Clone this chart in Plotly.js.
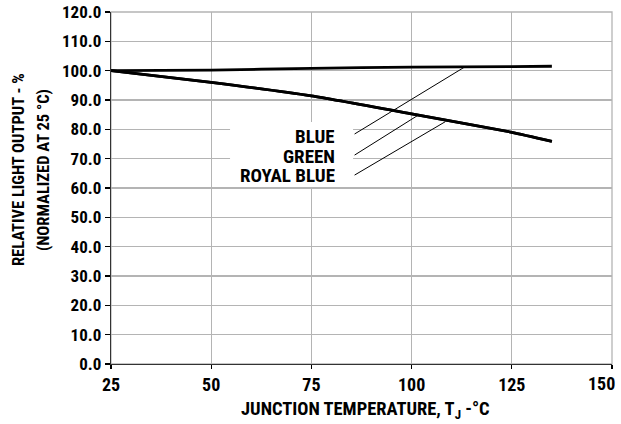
<!DOCTYPE html>
<html>
<head>
<meta charset="utf-8">
<script src="https://cdn.plot.ly/plotly-3.0.1.min.js"></script>
<style>
html,body{margin:0;padding:0;background:#fff;}
#chart{width:621px;height:424px;}
</style>
</head>
<body>
<div id="chart"></div>
<script>
// Junction temperature (°C)
var temperature = [25, 50, 75, 100, 125, 135];
// Relative light output (%), normalized at 25 °C
var blueOutput = [100, 100.2, 100.8, 101.2, 101.4, 101.5];
var greenOutput = [100, 96.0, 91.4, 85.3, 79.0, 75.9];
var royalBlueOutput = [100, 96.0, 91.4, 85.3, 79.0, 75.9];

// Callout labels and the curve points their leaders touch
var labelNames = ['BLUE', 'GREEN', 'ROYAL BLUE'];
var labelTextX = [81.4, 81.4, 81.4];
var labelTextY = [77.7, 70.9, 64.3];
var leaderStartX = [85.4, 85.4, 85.4];
var leaderStartY = [78.1, 70.9, 64.1];
var leaderEndX = [113.3, 101.6, 108.4];
var leaderEndY = [101.3, 84.8, 82.6];

var xTicks = [25, 50, 75, 100, 125, 150];
var yTicks = [0, 10, 20, 30, 40, 50, 60, 70, 80, 90, 100, 110, 120];

var FONT = "'Roboto Condensed', 'Open Sans Condensed', 'Liberation Sans Narrow', 'Arial Narrow', 'DejaVu Sans Condensed', sans-serif";

var lineStyle = {color: '#000', width: 2.8, shape: 'spline', smoothing: 0.5};
var traces = [
  {x: temperature, y: royalBlueOutput, mode: 'lines', name: 'ROYAL BLUE', line: lineStyle},
  {x: temperature, y: greenOutput, mode: 'lines', name: 'GREEN', line: lineStyle},
  {x: temperature, y: blueOutput, mode: 'lines', name: 'BLUE', line: lineStyle}
];

var annotations = [];
for (var i = 0; i < labelNames.length; i++) {
  annotations.push({
    x: labelTextX[i], y: labelTextY[i], xref: 'x', yref: 'y',
    text: '<b>' + labelNames[i] + '</b>', showarrow: false,
    xanchor: 'right', yanchor: 'middle', height: 17, valign: 'middle',
    font: {family: FONT, size: 19, color: '#000'}
  });
  annotations.push({
    x: leaderEndX[i], y: leaderEndY[i], xref: 'x', yref: 'y',
    ax: leaderStartX[i], ay: leaderStartY[i], axref: 'x', ayref: 'y',
    text: '', showarrow: true, arrowhead: 0, arrowwidth: 1, arrowcolor: '#000',
    standoff: 0, startstandoff: 0
  });
}
// last x tick label, nudged inward so it stays inside the picture
annotations.push({
  x: xTicks[xTicks.length - 1], y: -0.054, xref: 'x', yref: 'paper',
  text: '<b>' + xTicks[xTicks.length - 1] + '</b>', showarrow: false,
  xanchor: 'right', yanchor: 'middle', xshift: 5,
  font: {family: FONT, size: 18, color: '#000'}
});
annotations.push({
  x: -0.1856, y: 0.551, xref: 'paper', yref: 'paper', textangle: -90,
  text: '<b>RELATIVE LIGHT OUTPUT - %</b>', showarrow: false,
  xanchor: 'center', yanchor: 'middle',
  font: {family: FONT, size: 16.5, color: '#000'}
});
annotations.push({
  x: -0.1357, y: 0.551, xref: 'paper', yref: 'paper', textangle: -90,
  text: '<b>(NORMALIZED AT 25 °C)</b>', showarrow: false,
  xanchor: 'center', yanchor: 'middle',
  font: {family: FONT, size: 16.5, color: '#000'}
});
annotations.push({
  x: 0.507, y: -0.131, xref: 'paper', yref: 'paper',
  text: '<b>JUNCTION TEMPERATURE, T<sub>J</sub> -°C</b>', showarrow: false,
  xanchor: 'center', yanchor: 'middle',
  font: {family: FONT, size: 18.5, color: '#000'}
});

var layout = {
  width: 621, height: 424,
  margin: {l: 111, r: 9, t: 12, b: 60},
  paper_bgcolor: '#fff', plot_bgcolor: '#fff',
  showlegend: false,
  xaxis: {
    range: [25, 150], tickvals: xTicks,
    ticktext: xTicks.map(function (v, k) { return k === xTicks.length - 1 ? '' : String(v); }),
    showgrid: true, gridcolor: '#b4b4b4', gridwidth: 1.3,
    showline: true, linecolor: '#333', linewidth: 1.3, mirror: false,
    ticks: 'outside', ticklen: 4, tickcolor: '#000', tickwidth: 1.3,
    zeroline: false,
    tickfont: {family: FONT, size: 18, color: '#000', weight: 'bold'}
  },
  yaxis: {
    range: [0, 120], tickvals: yTicks, ticktext: yTicks.map(function (v) { return v.toFixed(1); }),
    showgrid: true, gridcolor: '#b4b4b4', gridwidth: 1.3,
    showline: true, linecolor: '#333', linewidth: 1.3, mirror: false,
    ticks: 'outside', ticklen: 5, tickcolor: '#000', tickwidth: 1.3,
    zeroline: false, ticklabeloverflow: 'allow',
    tickfont: {family: FONT, size: 17, color: '#000', weight: 'bold'}
  },
  shapes: [{
    type: 'rect', xref: 'paper', yref: 'paper', layer: 'below',
    x0: 0, x1: 1, y0: 0, y1: 1,
    line: {color: '#b4b4b4', width: 1.3}
  }, {
    type: 'rect', xref: 'x', yref: 'y', layer: 'between',
    x0: 54.7, x1: 85.4, y0: 60.3, y1: 82.5,
    fillcolor: '#fff', line: {width: 0}
  }],
  annotations: annotations
};

Plotly.newPlot('chart', traces, layout, {displayModeBar: false, staticPlot: true});
</script>
</body>
</html>
